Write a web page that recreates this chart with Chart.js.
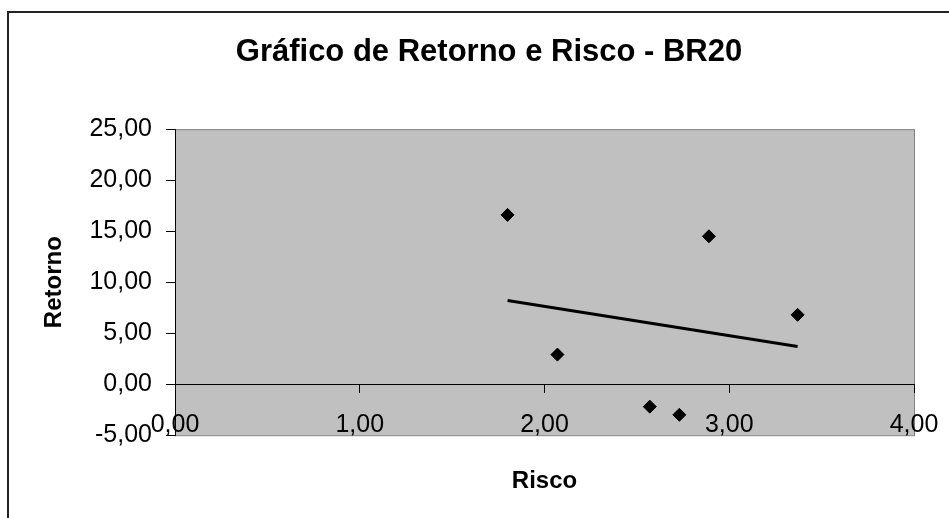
<!DOCTYPE html>
<html>
<head>
<meta charset="utf-8">
<script src="https://cdn.jsdelivr.net/npm/chart.js@4"></script>
<style>
  body { margin: 0; background: #fff; }
</style>
</head>
<body>
<canvas id="graficoRisco" width="949" height="518"></canvas>
<script>
const titulo = "Gráfico de Retorno e Risco - BR20";
const eixoX = "Risco";
const eixoY = "Retorno";

// pontos
const risco = [1.80, 2.07, 2.57, 2.73, 2.89, 3.37];
const retorno = [16.6, 2.9, -2.2, -3.0, 14.5, 6.8];

// linha de tendencia (inicio e fim)
const tendRisco = [1.80, 3.37];
const tendRetorno = [8.2, 3.7];

const yMin = -5, yMax = 25, yPasso = 5;
const xMin = 0, xMax = 4, xPasso = 1;

const fmt = (v) => Number(v).toFixed(2).replace(".", ",");
const fonte = "'Liberation Sans', Arial, sans-serif";

const pontos = risco.map((x, i) => ({ x: x, y: retorno[i] }));
const tendencia = tendRisco.map((x, i) => ({ x: x, y: tendRetorno[i] }));

const fundo = {
  id: "fundo",
  beforeDraw(chart) {
    const ctx = chart.ctx;
    const a = chart.chartArea;
    ctx.save();
    ctx.fillStyle = "#fff";
    ctx.fillRect(0, 0, chart.width, chart.height);
    ctx.strokeStyle = "#222";
    ctx.lineWidth = 2;
    ctx.strokeRect(8, 12, chart.width + 50, chart.height + 50);
    ctx.fillStyle = "#c0c0c0";
    ctx.fillRect(a.left, a.top, a.right - a.left, a.bottom - a.top);
    ctx.strokeStyle = "#808080";
    ctx.lineWidth = 1;
    ctx.strokeRect(a.left + 0.5, a.top + 0.5, a.right - a.left, a.bottom - a.top);
    ctx.restore();
  }
};

new Chart(document.getElementById("graficoRisco"), {
  type: "scatter",
  data: {
    datasets: [
      {
        label: "Retorno",
        data: pontos,
        pointStyle: "rectRot",
        pointRadius: 6.5,
        pointHoverRadius: 6.5,
        backgroundColor: "#000",
        borderColor: "#000",
        borderWidth: 1
      },
      {
        label: "Tendência",
        data: tendencia,
        showLine: true,
        pointRadius: 0,
        borderColor: "#000",
        borderWidth: 3
      }
    ]
  },
  options: {
    responsive: false,
    animation: false,
    layout: { padding: { left: 37, right: 8, top: 12, bottom: 22 } },
    plugins: {
      legend: { display: false },
      tooltip: { enabled: false },
      title: {
        display: true,
        text: titulo,
        color: "#000",
        font: { family: fonte, size: 31, weight: "bold" },
        padding: { top: 22, bottom: 58 }
      },
      subtitle: {
        display: true,
        text: eixoX,
        position: "bottom",
        fullSize: false,
        color: "#000",
        font: { family: fonte, size: 24, weight: "bold" },
        padding: { top: 32, bottom: 0 }
      }
    },
    scales: {
      x: {
        type: "linear",
        position: { y: 0 },
        min: xMin,
        max: xMax,
        grid: { drawOnChartArea: false, drawTicks: true, tickLength: 8, color: "#000" },
        border: { color: "#000", width: 1 },
        ticks: {
          stepSize: xPasso,
          color: "#000",
          padding: 18,
          font: { family: fonte, size: 25 },
          callback: (v) => fmt(v)
        },
        afterFit: (s) => { s.paddingRight = 35; s.paddingLeft = 0; }
      },
      y: {
        type: "linear",
        min: yMin,
        max: yMax,
        grid: { drawOnChartArea: false, drawTicks: true, tickLength: 9, color: "#000" },
        border: { color: "#000", width: 1 },
        ticks: {
          stepSize: yPasso,
          color: "#000",
          padding: 14,
          font: { family: fonte, size: 25 },
          callback: (v) => fmt(v)
        },
        title: {
          display: true,
          text: eixoY,
          color: "#000",
          font: { family: fonte, size: 24, weight: "bold" },
          padding: { top: 3, bottom: 0 }
        },
        afterFit: (s) => { s.width = 138; }
      }
    }
  },
  plugins: [fundo]
});
</script>
</body>
</html>
